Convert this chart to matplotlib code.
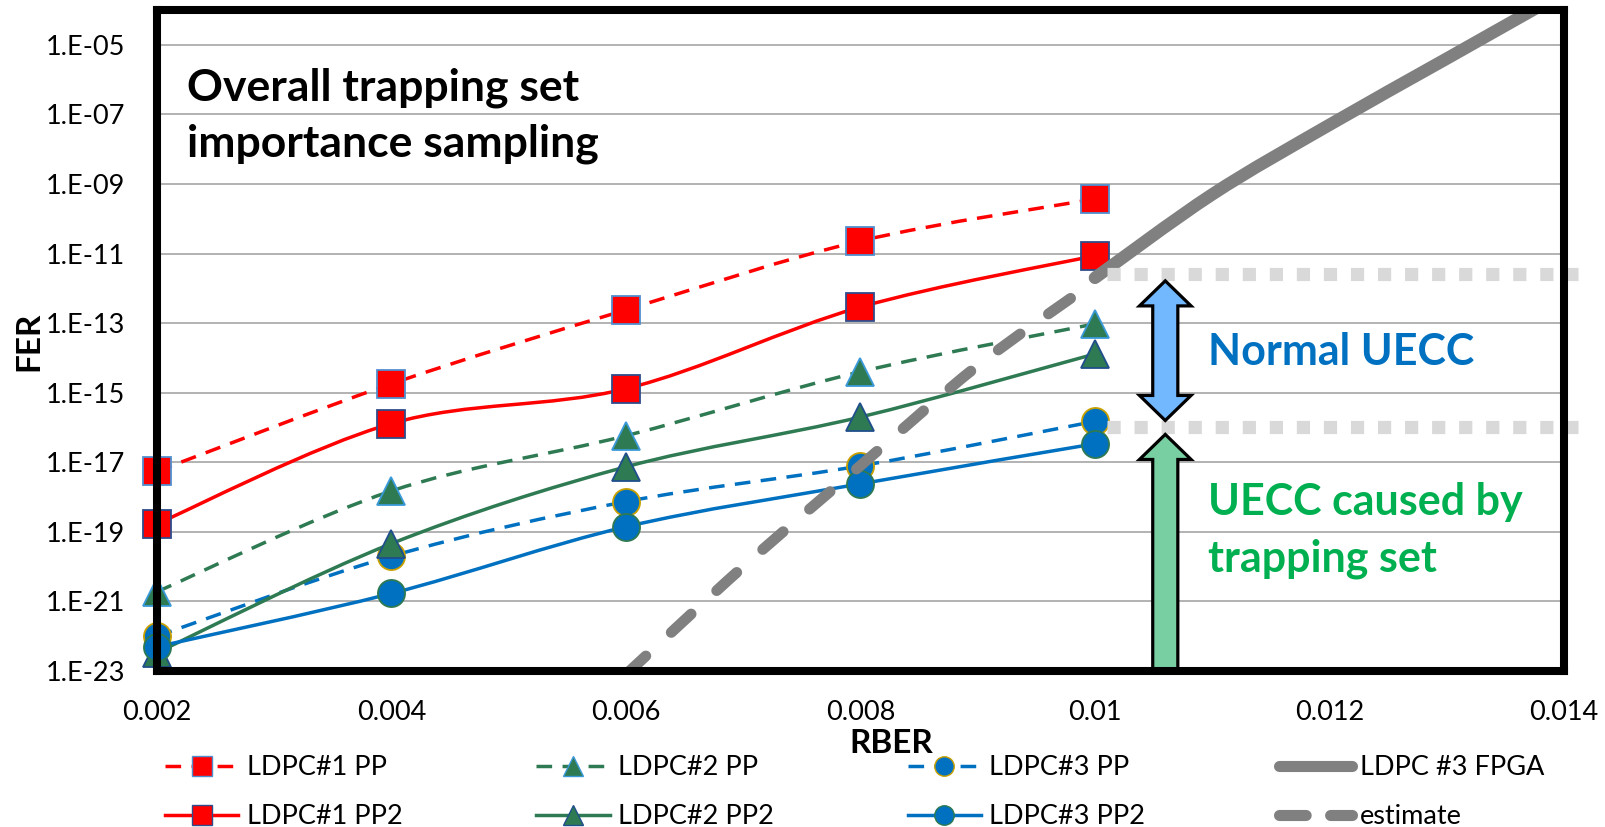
import numpy as np
import matplotlib
matplotlib.use("Agg")
import matplotlib.pyplot as plt
from matplotlib.path import Path
from matplotlib.patches import PathPatch, Polygon
from matplotlib.lines import Line2D

plt.rcParams['font.family'] = ['Lato', 'DejaVu Sans']

# RBER points of the importance-sampling runs
rber = [0.002, 0.004, 0.006, 0.008, 0.010]
ldpc1_pp = [5.5e-18, 1.8e-15, 2.4e-13, 2.3e-11, 3.7e-10]
ldpc1_pp2 = [1.7e-19, 1.3e-16, 1.3e-15, 2.9e-13, 8.7e-12]
ldpc2_pp = [1.9e-21, 1.5e-18, 5.8e-17, 4.0e-15, 9.5e-14]
ldpc2_pp2 = [3.4e-23, 4.6e-20, 7.4e-18, 2.0e-16, 1.3e-14]
ldpc3_pp = [1.0e-22, 2.0e-20, 7.4e-19, 7.9e-18, 1.5e-16]
ldpc3_pp2 = [5.0e-23, 1.7e-21, 1.4e-19, 2.4e-18, 3.4e-17]

# FPGA measurement and its extrapolation
fpga_rber = [0.010, 0.011, 0.012, 0.013, 0.014]
fpga_fer = [2.0e-12, 5.0e-10, 5.0e-8, 4.0e-6, 3.2e-4]
est_rber = [0.006, 0.007, 0.008, 0.009, 0.010]
est_fer = [8e-24, 1e-20, 8e-18, 6e-15, 1.6e-12]

# UECC bands
normal_top = 2.6e-12
trapping_top = 1.05e-16
arrow_x = 0.0106

xticks = [0.002, 0.004, 0.006, 0.008, 0.010, 0.012, 0.014]
xtick_labels = ['0.002', '0.004', '0.006', '0.008', '0.01', '0.012', '0.014']
yticks = [10.0 ** e for e in range(-23, -4, 2)]
ytick_labels = ['1.E-%02d' % -e for e in range(-23, -4, 2)]

RED = '#FF0000'
GREEN = '#2E7A52'
BLUE = '#0070C0'
GRAY = '#808080'


def smooth_path(xs, ys):
    """Excel-like smoothed line: cubic Bezier through the points in (x, log y)."""
    lx = np.asarray(xs, float)
    ly = np.log10(ys)
    n = len(lx)
    verts = [(lx[0], ly[0])]
    codes = [Path.MOVETO]
    for i in range(n - 1):
        a = max(i - 1, 0)
        b = min(i + 2, n - 1)
        c1 = (lx[i] + (lx[i + 1] - lx[a]) / 6, ly[i] + (ly[i + 1] - ly[a]) / 6)
        c2 = (lx[i + 1] - (lx[b] - lx[i]) / 6, ly[i + 1] - (ly[b] - ly[i]) / 6)
        verts += [c1, c2, (lx[i + 1], ly[i + 1])]
        codes += [Path.CURVE4] * 3
    verts = [(x, 10.0 ** y) for x, y in verts]
    return Path(verts, codes)


fig = plt.figure(figsize=(16.05, 8.27), dpi=100)
ax = fig.add_axes([0.0978, 0.1886, 0.8766, 0.7993])
ax.set_yscale('log')
ax.set_xlim(0.002, 0.014)
ax.set_ylim(1e-23, 1e-4)

series = [
    (ldpc1_pp, RED, 'dashed', 's', RED, '#4F8FD0', 'LDPC#1 PP'),
    (ldpc2_pp, GREEN, 'dashed', '^', GREEN, '#3A9AD9', 'LDPC#2 PP'),
    (ldpc3_pp, BLUE, 'dashed', 'o', BLUE, '#C9A000', 'LDPC#3 PP'),
    (ldpc1_pp2, RED, 'solid', 's', RED, '#2F4C8C', 'LDPC#1 PP2'),
    (ldpc2_pp2, GREEN, 'solid', '^', GREEN, '#1F4E8C', 'LDPC#2 PP2'),
    (ldpc3_pp2, BLUE, 'solid', 'o', BLUE, '#2E7A52', 'LDPC#3 PP2'),
]

handles = {}
for z, (vals, col, ls, mk, mfc, mec, name) in enumerate(series):
    dash = (0, (4.5, 3)) if ls == 'dashed' else '-'
    patch = PathPatch(smooth_path(rber, vals), fill=False, edgecolor=col,
                      lw=2.5, linestyle=dash, zorder=3 + z)
    ax.add_patch(patch)
    ax.plot(rber, vals, linestyle='none', marker=mk, markersize=19.5,
            markerfacecolor=mfc, markeredgecolor=mec, markeredgewidth=1.3,
            clip_on=False, zorder=3.5 + z)
    handles[name] = Line2D([], [], color=col, lw=2.5, linestyle=dash,
                           marker=mk, markersize=14, markerfacecolor=mfc,
                           markeredgecolor=mec, markeredgewidth=1.0)

# gray FPGA curve and its estimate
fpga = PathPatch(smooth_path(fpga_rber, fpga_fer), fill=False, edgecolor=GRAY,
                 lw=9, capstyle='round', zorder=10)
ax.add_patch(fpga)
est = PathPatch(smooth_path(est_rber, est_fer), fill=False, edgecolor=GRAY,
                lw=7.8, linestyle=(0, (2.5, 3.2)), capstyle='round', zorder=10)
ax.add_patch(est)
handles['LDPC #3 FPGA'] = Line2D([], [], color=GRAY, lw=8, solid_capstyle='round')
handles['estimate'] = Line2D([], [], color=GRAY, lw=8, linestyle=(0, (2.4, 2.2)),
                             dash_capstyle='round')

# dotted band limits
for level in (normal_top, trapping_top):
    ax.plot([0.0101, 0.01412], [level, level], color='#D9D9D9', lw=9.5,
            linestyle=(0, (1, 1.05)), solid_capstyle='butt',
            dash_capstyle='butt', clip_on=False, zorder=12)


def block_arrow(x, y0, y1, color, head_top=True, head_bottom=False):
    """Vertical block arrow between y0 (bottom) and y1 (top) on a log axis."""
    hw, sw, hl = 0.00022, 0.000107, 0.72
    l0, l1 = np.log10(y0), np.log10(y1)
    pts = []
    if head_top:
        pts += [(x + sw, l1 - hl), (x + hw, l1 - hl), (x, l1),
                (x - hw, l1 - hl), (x - sw, l1 - hl)]
    else:
        pts += [(x + sw, l1), (x - sw, l1)]
    if head_bottom:
        pts += [(x - sw, l0 + hl), (x - hw, l0 + hl), (x, l0),
                (x + hw, l0 + hl), (x + sw, l0 + hl)]
    else:
        pts += [(x - sw, l0), (x + sw, l0)]
    pts = [(px, 10.0 ** py) for px, py in pts]
    ax.add_patch(Polygon(pts, closed=True, facecolor=color, edgecolor='black',
                         lw=2.3, joinstyle='miter', zorder=13))


block_arrow(arrow_x, trapping_top * 10 ** 0.18, normal_top / 10 ** 0.2,
            '#71B8FF', head_top=True, head_bottom=True)
block_arrow(arrow_x, 1.1e-23, trapping_top / 10 ** 0.22, '#78D0A2')

# axes styling
ax.set_xticks(xticks)
ax.set_xticklabels(xtick_labels)
ax.set_yticks(yticks)
ax.set_yticklabels(ytick_labels)
ax.yaxis.set_minor_locator(matplotlib.ticker.NullLocator())
ax.tick_params(axis='both', length=0, labelsize=19.5)
ax.tick_params(axis='y', pad=23)
ax.tick_params(axis='x', pad=21)
ax.yaxis.grid(True, color='#A6A6A6', lw=1.2)
ax.set_axisbelow(True)
for sp in ax.spines.values():
    sp.set_linewidth(5.8)
    sp.set_color('black')
    sp.set_zorder(20)

fig.text(0.555, 0.101, 'RBER', fontsize=24, fontweight='bold',
         ha='center', va='center')
fig.text(0.018, 0.587, 'FER', fontsize=24, fontweight='bold', rotation=90,
         ha='center', va='center')

ax.text(0.0213, 0.840, 'Overall trapping set\nimportance sampling',
        transform=ax.transAxes, fontsize=32, fontweight='bold',
        ha='left', va='center', linespacing=1.45)
ax.text(0.747, 0.483, 'Normal UECC', transform=ax.transAxes, fontsize=31,
        fontweight='bold', color=BLUE, ha='left', va='center')
ax.text(0.747, 0.212, 'UECC caused by\ntrapping set', transform=ax.transAxes,
        fontsize=31, fontweight='bold', color='#00B050', ha='left',
        va='center', linespacing=1.5)

order = ['LDPC#1 PP', 'LDPC#1 PP2', 'LDPC#2 PP', 'LDPC#2 PP2',
         'LDPC#3 PP', 'LDPC#3 PP2', 'LDPC #3 FPGA', 'estimate']
fig.legend([handles[k] for k in order], order, ncol=4, loc='upper left',
           bbox_to_anchor=(0.103, 0.087), bbox_transform=fig.transFigure,
           frameon=False, fontsize=19.5, handlelength=2.7, handletextpad=0.3,
           columnspacing=4.95, labelspacing=0.9, borderpad=0, borderaxespad=0)

fig.savefig('out.png', dpi=100)
